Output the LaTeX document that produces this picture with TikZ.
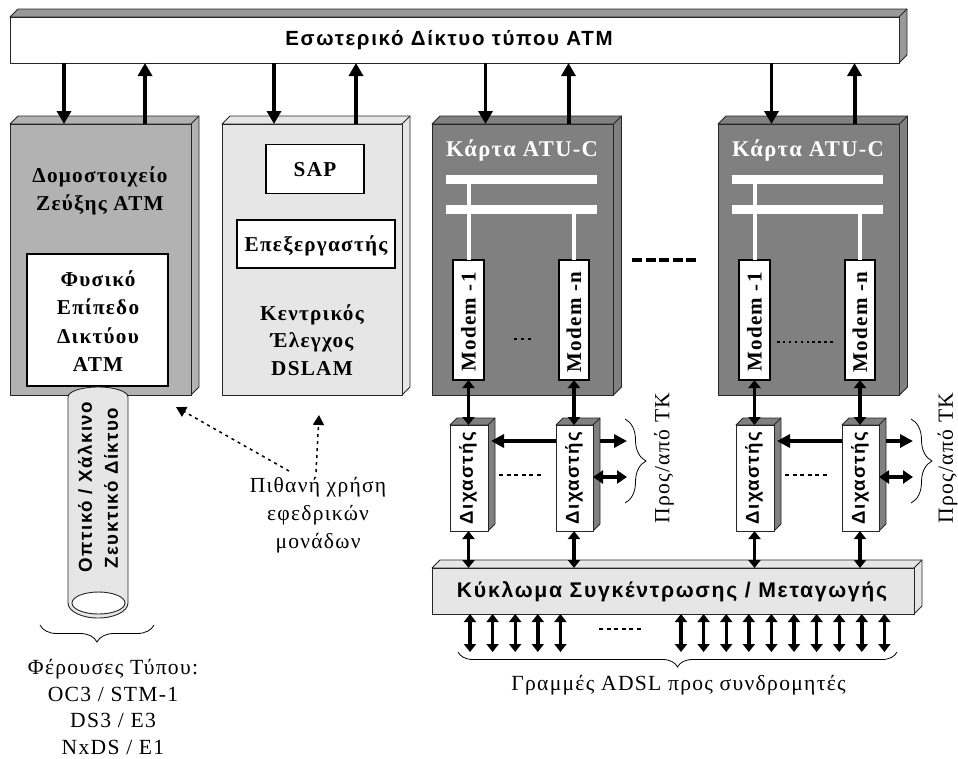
\documentclass[tikz,border=0pt]{standalone}
\usepackage{fontspec}
\setmainfont{Liberation Serif}
\newfontfamily\serifwide[LetterSpace=6]{Liberation Serif}
\newfontfamily\sanswide[LetterSpace=8]{Liberation Sans}
\usetikzlibrary{arrows.meta,decorations.pathreplacing}
\definecolor{facelight}{HTML}{E6E6E6}
\definecolor{facemid}{HTML}{B2B2B2}
\definecolor{facedark}{HTML}{808080}
\definecolor{faceside}{HTML}{999999}
\tikzset{
  edge/.style={draw=black!85,line width=0.9pt,line join=round},
  inbox/.style={draw=black,line width=1.1pt,fill=white,inner sep=0pt,outer sep=0pt},
  seriflabel/.style={font=\serifwide\bfseries\fontsize{21.2}{27.5}\selectfont,align=center,inner sep=0pt},
  modemlabel/.style={font=\serifwide\bfseries\fontsize{21}{27.5}\selectfont,inner sep=0pt},
  sanslabel/.style={font=\sanswide\bfseries\fontsize{20.5}{25.5}\selectfont,align=center,inner sep=0pt},
  sidelabel/.style={font=\sanswide\bfseries\fontsize{18.7}{25.5}\selectfont,align=center,inner sep=0pt},
  plainlabel/.style={font=\serifwide\fontsize{21.6}{26.5}\selectfont,align=center,inner sep=0pt},
  bigdown/.style={line width=3.4pt,-{Triangle[length=13pt,width=14pt]}},
  bigup/.style={line width=4pt,-{Triangle[length=13pt,width=14pt]}},
  twoway/.style={line width=3.4pt,{Triangle[length=8pt,width=12pt]}-{Triangle[length=8pt,width=12pt]}},
  sideway/.style={line width=3.4pt,-{Triangle[length=13pt,width=13pt]}},
  sidetwo/.style={line width=3.4pt,{Triangle[length=10pt,width=13pt]}-{Triangle[length=10pt,width=13pt]}},
  spare/.style={line width=1.5pt,dash pattern=on 3pt off 4pt,-{Triangle[length=10pt,width=11pt]}},
  bus/.style={fill=white,inner sep=0pt,outer sep=0pt,minimum width=151pt,minimum height=9pt},
  bracket/.style={draw=black,line width=0.8pt,decorate},
  gap/.style={line width=1.2pt}
}
% name, left, top, right, bottom, depth, front, side
\newcommand{\cuboid}[8]{
  \draw[edge,fill=#8] (#2,#3) -- ({#2+#6},{#3-#6}) -- ({#4+#6},{#3-#6}) -- ({#4+#6},{#5-#6}) -- (#4,#5) -- (#4,#3) -- cycle;
  \draw[edge] (#4,#3) -- ({#4+#6},{#3-#6});
  \node[edge,fill=#7,inner sep=0pt,outer sep=0pt,minimum width={((#4)-(#2))*1pt},minimum height={((#5)-(#3))*1pt}] (#1) at ({(#2+#4)/2},{(#3+#5)/2}) {};
}
\begin{document}
\begin{tikzpicture}[x=1pt,y=-1pt]
  \useasboundingbox (0,0) rectangle (958,758);
  % backbone
  \cuboid{net}{10}{17}{899}{63}{8}{white}{faceside}
  \node[sanslabel] (nettext) at (449,40) {Εσωτερικό Δίκτυο τύπου ATM};

  % switch module
  \cuboid{switch}{10}{124}{191}{395}{8}{facemid}{facemid}
  \node[seriflabel] (switchtext) at (100,191) {Δομοστοιχείο\\Ζεύξης ATM};
  \node[inbox,minimum width=141pt,minimum height=132pt] (phy) at (97.5,320) {};
  \node[seriflabel,font=\serifwide\bfseries\fontsize{21.2}{28.5}\selectfont] (phytext) at (98,321) {Φυσικό\\Επίπεδο\\Δικτύου\\ATM};

  % control module
  \cuboid{ctrl}{222}{124}{402}{395}{8}{facelight}{facelight}
  \node[inbox,minimum width=98pt,minimum height=49pt] (sap) at (315,169) {};
  \node[seriflabel] (saptext) at (315,170) {SAP};
  \node[inbox,minimum width=158pt,minimum height=48pt] (cpu) at (316,244) {};
  \node[seriflabel] (cputext) at (316,246) {Επεξεργαστής};
  \node[seriflabel] (ctrltext) at (312,340) {Κεντρικός\\Έλεγχος\\DSLAM};

  % concentrator
  \cuboid{mux}{432}{568}{914}{614}{8}{facelight}{facelight}
  \node[sanslabel,font=\sanswide\bfseries\fontsize{21.2}{25.5}\selectfont] (muxtext) at (672,592) {Κύκλωμα Συγκέντρωσης / Μεταγωγής};

  \foreach \c/\x in {a/432,b/718}{
    \cuboid{card\c}{\x}{124}{\x+181.5}{395}{8}{facedark}{facedark}
    \node[seriflabel,text=white,font=\serifwide\bfseries\fontsize{22.5}{27.5}\selectfont] (title\c) at (\x+90,151) {Κάρτα ATU-C};
    \node[bus] (bus\c1) at (\x+89.5,179.5) {};
    \node[bus] (bus\c2) at (\x+89.5,209.5) {};
    % modems
    \node[inbox,minimum width=31pt,minimum height=120pt] (modem\c1) at (\x+36.5,320) {};
    \node[inbox,minimum width=30pt,minimum height=120pt] (modem\c2) at (\x+142,320) {};
    \node[modemlabel,rotate=90] (mtext\c1) at (\x+36.5,322) {Modem -1};
    \node[modemlabel,rotate=90] (mtext\c2) at (\x+142,322) {Modem -n};
    \draw[white,line width=4pt] (modem\c1.north) -- (modem\c1.north |- bus\c1.south);
    \draw[white,line width=4pt] (modem\c2.north) -- (modem\c2.north |- bus\c2.south);
    % splitters
    \cuboid{split\c1}{\x+18}{425}{\x+56}{531}{7}{white}{facedark}
    \cuboid{split\c2}{\x+124}{425}{\x+161}{531}{7}{white}{facedark}
    \node[sidelabel,rotate=90] (stext\c1) at (\x+36,478) {Διχαστής};
    \node[sidelabel,rotate=90] (stext\c2) at (\x+142,478) {Διχαστής};
    \draw[twoway] (modem\c1.south) -- (modem\c1.south |- split\c1.north);
    \draw[twoway] (modem\c2.south) -- (modem\c2.south |- split\c2.north);
    \draw[twoway] (modem\c1.south |- split\c1.south) -- (modem\c1.south |- mux.north);
    \draw[twoway] (modem\c2.south |- split\c2.south) -- (modem\c2.south |- mux.north);
    % to the exchange
    \coordinate (cross\c) at (\x+59,441);
    \coordinate (out\c) at (\x+195,441);
    \coordinate (both\c) at (\x+195,477);
    \draw[sideway] (split\c2.west |- cross\c) -- (cross\c);
    \draw[sideway] ([xshift=7pt]split\c2.east |- out\c) -- (out\c);
    \draw[sidetwo] (split\c2.east |- both\c) -- (both\c);
    \draw[bracket,decoration={brace,amplitude=21pt,aspect=0.5}] (\x+193,419) -- (\x+193,503);
    \draw[gap,dash pattern=on 4pt off 3.6pt] (\x+67,475) -- (\x+110,475);
    % backbone links
    \coordinate (down\c) at (\x+53.5,124);
    \coordinate (up\c) at (\x+136.5,124);
    \draw[bigdown] (down\c |- net.south) -- (down\c);
    \draw[bigup] (up\c) -- (up\c |- net.south);
  }
  \node[plainlabel,rotate=90] (tka) at (664,458) {Προς/από ΤΚ};
  \node[plainlabel,rotate=90] (tkb) at (947.5,458) {Προς/από ΤΚ};
  \draw[gap,dash pattern=on 3pt off 4pt] (514,339) -- (534,339);
  \draw[gap,dash pattern=on 2.5pt off 3.4pt] (777,342) -- (833,342);
  \draw[line width=4pt,dash pattern=on 10pt off 3.6pt] (632,260) -- (700,260);

  \coordinate (dsw) at (64,124);
  \coordinate (usw) at (145,124);
  \coordinate (dct) at (274,124);
  \coordinate (uct) at (356,124);
  \draw[bigdown] (dsw |- net.south) -- (dsw);
  \draw[bigup] (usw) -- (usw |- net.south);
  \draw[bigdown] (dct |- net.south) -- (dct);
  \draw[bigup] (uct) -- (uct |- net.south);

  % subscriber lines
  \foreach \a [count=\i] in {470,492.6,515.2,537.8,560.4,681,703.6,726.2,748.8,771.4,794,816.6,839.2,861.8,884.4}{
    \coordinate (line\i) at (\a,652);
    \draw[twoway] (line\i |- mux.south) -- (line\i);
  }
  \draw[gap,dash pattern=on 4pt off 3.6pt] (599,629) -- (642,629);
  \draw[bracket,decoration={brace,amplitude=15pt,aspect=0.5}] (897,652) -- (458,652);
  \node[plainlabel] (adsl) at (678.5,685) {Γραμμές ADSL προς συνδρομητές};

  % trunk
  \draw[edge,fill=facelight] (68,397) arc[start angle=180,end angle=0,x radius=30,y radius=-10] -- (128,603) arc[start angle=0,end angle=-180,x radius=30,y radius=-15] -- cycle;
  \draw[edge,fill=white] (98.5,603) ellipse[x radius=26.5,y radius=11];
  \node[sidelabel,rotate=90] (tubea) at (85,487) {Οπτικό / Χάλκινο};
  \node[sidelabel,rotate=90] (tubeb) at (111,488) {Ζευκτικό Δίκτυο};
  \draw[bracket,decoration={brace,amplitude=17pt,aspect=0.5}] (154,625) -- (40,625);
  \node[plainlabel] (carrier) at (113,707) {Φέρουσες Τύπου:\\OC3 / STM-1\\DS3 / E3\\NxDS / E1};

  % spare units
  \node[plainlabel,font=\serifwide\fontsize{21.5}{28}\selectfont] (sparetext) at (318,515) {Πιθανή χρήση\\εφεδρικών\\μονάδων};
  \coordinate (sparea) at (289,471);
  \coordinate (spareb) at (316,472);
  \draw[spare] (sparea) -- (176,407);
  \draw[spare] (spareb) -- (319,415);
\end{tikzpicture}
\end{document}
